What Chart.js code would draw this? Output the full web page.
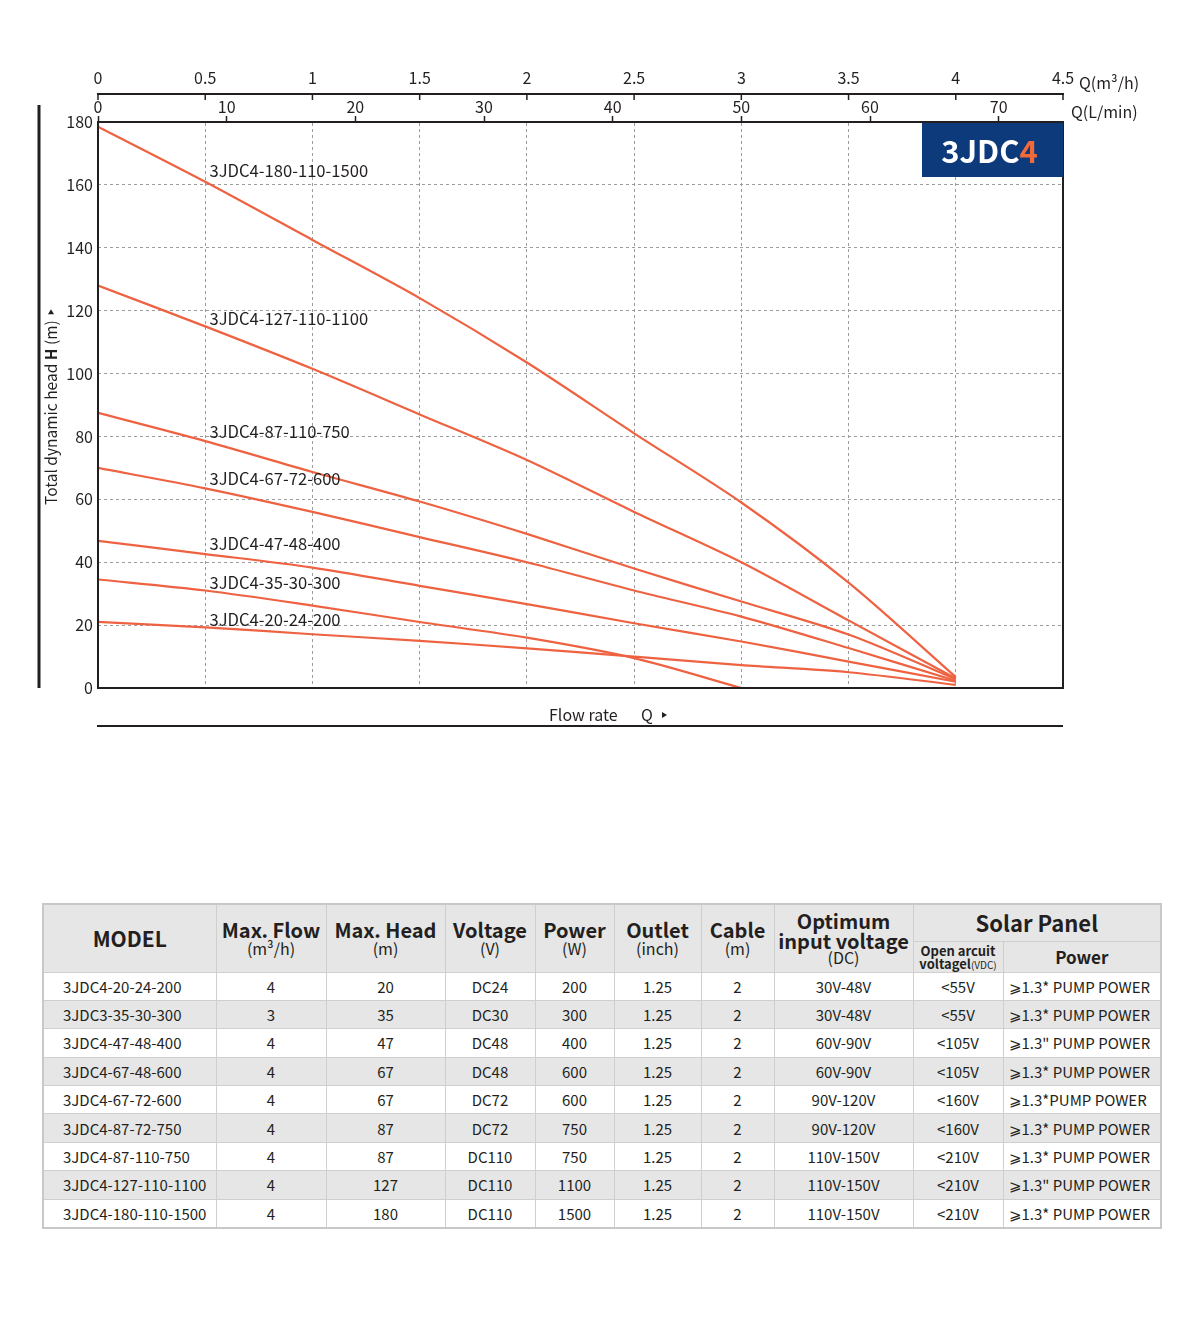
<!DOCTYPE html>
<html>
<head>
<meta charset="utf-8">
<script src="https://cdn.jsdelivr.net/npm/chart.js@4.4.1/dist/chart.umd.min.js"></script>
<style>
  html, body { margin: 0; padding: 0; background: #fff; }
  body { width: 1200px; height: 1328px; position: relative; font-family: "Noto Sans CJK SC", "Noto Sans", sans-serif; color: #231f20; }
  #chartBox { position: absolute; left: 0; top: 0; width: 1200px; height: 760px; }
  #specTable { position: absolute; left: 42px; top: 903px; width: 1118px; border-collapse: collapse; table-layout: fixed; border: 2px solid #c8c8c8; }
  #specTable th, #specTable td { border: 1px solid #cfcfcf; padding: 0; text-align: center; overflow: hidden; white-space: nowrap; }
  #specTable thead th { background: #e6e6e6; font-weight: bold; line-height: 1.05; }
  #specTable .big { font-size: 20px; }
  #specTable .unit { font-size: 16px; font-weight: normal; }
  #specTable tbody td { height: 27.4px; font-size: 15px; }
  #specTable tbody tr:nth-child(even) td { background: #e6e6e6; }
  #specTable td.model { text-align: left; padding-left: 19px; }
  #specTable td.pw { text-align: left; padding-left: 5px; }
</style>
</head>
<body>
<div id="chartBox"><canvas id="pumpChart" width="1200" height="760"></canvas></div>

<table id="specTable">
  <colgroup>
    <col style="width:173px"><col style="width:110px"><col style="width:119px"><col style="width:90px">
    <col style="width:79px"><col style="width:87px"><col style="width:73px"><col style="width:139px">
    <col style="width:90px"><col style="width:158px">
  </colgroup>
  <thead>
    <tr style="height:37px">
      <th rowspan="2" style="font-size:21px">MODEL</th>
      <th rowspan="2"><span class="big">Max. Flow</span><br><span class="unit">(m³/h)</span></th>
      <th rowspan="2"><span class="big">Max. Head</span><br><span class="unit">(m)</span></th>
      <th rowspan="2"><span class="big">Voltage</span><br><span class="unit">(V)</span></th>
      <th rowspan="2"><span class="big">Power</span><br><span class="unit">(W)</span></th>
      <th rowspan="2"><span class="big">Outlet</span><br><span class="unit">(inch)</span></th>
      <th rowspan="2"><span class="big">Cable</span><br><span class="unit">(m)</span></th>
      <th rowspan="2" style="line-height:0.95"><span class="big">Optimum<br>input voltage</span><br><span class="unit">(DC)</span></th>
      <th colspan="2" style="font-size:22px">Solar Panel</th>
    </tr>
    <tr style="height:31px">
      <th style="font-size:13px; line-height:1">Open arcuit<br>voltagel<span style="font-size:10px; font-weight:normal">(VDC)</span></th>
      <th style="font-size:17px">Power</th>
    </tr>
  </thead>
  <tbody id="specBody"></tbody>
</table>

<script>
// Curvas H-Q da série 3JDC4 (vazão em m³/h, altura em m)
const flowQ = [0, 0.5, 1, 1.5, 2, 2.5, 3, 3.5, 4];
const flowQ35 = [0, 0.5, 1, 1.5, 2, 2.5, 3];

const head180 = [178.5, 161, 142.5, 124, 103.5, 81, 59, 33.5, 3.5];
const head127 = [128, 115, 101.5, 87, 72.5, 56, 40, 21.5, 3];
const head87 = [87.5, 78.5, 68.7, 59.3, 49, 38, 27.5, 17, 2.8];
const head67 = [70, 63.5, 56, 48, 40, 31, 22.7, 12.7, 2.3];
const head47 = [46.8, 42.6, 38.3, 32.5, 26.7, 20.6, 14.8, 8.4, 2];
const head35 = [34.5, 31, 26.2, 21, 16, 9.5, 0];
const head20 = [21, 19.3, 17.1, 15, 12.6, 10, 7.3, 5, 1];

const curveNames = ['3JDC4-180-110-1500', '3JDC4-127-110-1100', '3JDC4-87-110-750', '3JDC4-67-72-600',
                    '3JDC4-47-48-400', '3JDC4-35-30-300', '3JDC4-20-24-200'];
// onde fica o texto de cada curva (Q, H)
const labelQ = 0.52;
const labelHeads = [164.4, 117.5, 81.5, 66.6, 45.9, 33.5, 21.7];

// eixos
const m3hTicks = [0, 0.5, 1, 1.5, 2, 2.5, 3, 3.5, 4, 4.5];
const lpmTicks = [0, 10, 20, 30, 40, 50, 60, 70];
const headTicks = [0, 20, 40, 60, 80, 100, 120, 140, 160, 180];

// tabela
const tableRows = [
  ['3JDC4-20-24-200', '4', '20', 'DC24', '200', '1.25', '2', '30V-48V', '<55V', '⩾1.3* PUMP POWER'],
  ['3JDC3-35-30-300', '3', '35', 'DC30', '300', '1.25', '2', '30V-48V', '<55V', '⩾1.3* PUMP POWER'],
  ['3JDC4-47-48-400', '4', '47', 'DC48', '400', '1.25', '2', '60V-90V', '<105V', '⩾1.3" PUMP POWER'],
  ['3JDC4-67-48-600', '4', '67', 'DC48', '600', '1.25', '2', '60V-90V', '<105V', '⩾1.3* PUMP POWER'],
  ['3JDC4-67-72-600', '4', '67', 'DC72', '600', '1.25', '2', '90V-120V', '<160V', '⩾1.3*PUMP POWER'],
  ['3JDC4-87-72-750', '4', '87', 'DC72', '750', '1.25', '2', '90V-120V', '<160V', '⩾1.3* PUMP POWER'],
  ['3JDC4-87-110-750', '4', '87', 'DC110', '750', '1.25', '2', '110V-150V', '<210V', '⩾1.3* PUMP POWER'],
  ['3JDC4-127-110-1100', '4', '127', 'DC110', '1100', '1.25', '2', '110V-150V', '<210V', '⩾1.3" PUMP POWER'],
  ['3JDC4-180-110-1500', '4', '180', 'DC110', '1500', '1.25', '2', '110V-150V', '<210V', '⩾1.3* PUMP POWER']
];

const LINE_COLOR = '#ee6241';
const INK = '#231f20';
const GRID = '#9c9c9c';
const FONT = '"Noto Sans CJK SC", "Noto Sans", sans-serif';

// Montar a tabela
const tbody = document.getElementById('specBody');
tableRows.forEach(row => {
    const tr = document.createElement('tr');
    row.forEach((cell, i) => {
        const td = document.createElement('td');
        td.textContent = cell;
        if (i === 0) td.className = 'model';
        if (i === 9) td.className = 'pw';
        tr.appendChild(td);
    });
    tbody.appendChild(tr);
});

function toPoints(xs, ys) {
    return xs.map((x, i) => ({ x: x, y: ys[i] }));
}

const curveData = [
    toPoints(flowQ, head180),
    toPoints(flowQ, head127),
    toPoints(flowQ, head87),
    toPoints(flowQ, head67),
    toPoints(flowQ, head47),
    toPoints(flowQ35, head35),
    toPoints(flowQ, head20)
];

// Desenhos extras: moldura, rótulos das curvas, selo, títulos dos eixos
const decorPlugin = {
    id: 'decor',
    afterDraw(chart) {
        const ctx = chart.ctx;
        const area = chart.chartArea;
        const sx = chart.scales.x;
        const sy = chart.scales.y;
        ctx.save();

        // moldura do gráfico
        ctx.strokeStyle = INK;
        ctx.lineWidth = 2;
        ctx.strokeRect(area.left, area.top, area.right - area.left, area.bottom - area.top);

        // marcas do eixo m³/h (para dentro)
        ctx.lineWidth = 1.5;
        m3hTicks.forEach(v => {
            const px = sx.getPixelForValue(v);
            ctx.beginPath();
            ctx.moveTo(px, sx.bottom);
            ctx.lineTo(px, sx.bottom + 6);
            ctx.stroke();
        });

        // rótulos das curvas
        ctx.fillStyle = INK;
        ctx.font = '16.6px ' + FONT;
        ctx.textBaseline = 'middle';
        ctx.textAlign = 'left';
        curveNames.forEach((name, i) => {
            ctx.fillText(name, sx.getPixelForValue(labelQ), sy.getPixelForValue(labelHeads[i]));
        });

        // selo 3JDC4
        const bw = 141, bh = 54;
        ctx.fillStyle = '#0c3a7a';
        ctx.fillRect(area.right - bw, area.top + 1, bw, bh);
        ctx.font = 'bold 31px ' + FONT;
        ctx.textAlign = 'left';
        const t1 = '3JDC';
        const w1 = ctx.measureText(t1).width;
        const w2 = ctx.measureText('4').width;
        const tx = area.right - bw / 2 - (w1 + w2) / 2 - 3;
        const ty = area.top + 1 + bh / 2 + 1;
        ctx.fillStyle = '#ffffff';
        ctx.fillText(t1, tx, ty);
        ctx.fillStyle = '#f06a3c';
        ctx.fillText('4', tx + w1, ty);

        // títulos dos eixos de vazão
        ctx.fillStyle = INK;
        ctx.font = '16px ' + FONT;
        ctx.fillText('Q(m³/h)', area.right + 16, sx.bottom - 11);
        ctx.fillText('Q(L/min)', area.right + 8, area.top - 10);

        // linha vertical à esquerda
        ctx.lineWidth = 3;
        ctx.beginPath();
        ctx.moveTo(39, area.top - 17);
        ctx.lineTo(39, area.bottom);
        ctx.stroke();

        // título do eixo Y (girado)
        ctx.save();
        ctx.translate(51, 505);
        ctx.rotate(-Math.PI / 2);
        ctx.textBaseline = 'middle';
        ctx.font = '15.5px ' + FONT;
        let cx = 0;
        ctx.fillText('Total dynamic head ', cx, 0);
        cx += ctx.measureText('Total dynamic head ').width;
        ctx.font = 'bold 15.5px ' + FONT;
        ctx.fillText('H', cx, 0);
        cx += ctx.measureText('H').width;
        ctx.font = '15.5px ' + FONT;
        ctx.fillText(' (m)', cx, 0);
        cx += ctx.measureText(' (m)').width + 6;
        ctx.beginPath();
        ctx.moveTo(cx, -3);
        ctx.lineTo(cx + 5, 0);
        ctx.lineTo(cx, 3);
        ctx.closePath();
        ctx.fill();
        ctx.restore();

        // título do eixo X embaixo
        ctx.font = '16px ' + FONT;
        ctx.textBaseline = 'middle';
        ctx.fillText('Flow rate', 549, area.bottom + 27);
        ctx.fillText('Q', 641, area.bottom + 27);
        ctx.beginPath();
        ctx.moveTo(662, area.bottom + 24);
        ctx.lineTo(667, area.bottom + 27);
        ctx.lineTo(662, area.bottom + 30);
        ctx.closePath();
        ctx.fill();

        ctx.lineWidth = 2;
        ctx.beginPath();
        ctx.moveTo(area.left - 1, area.bottom + 38);
        ctx.lineTo(area.right, area.bottom + 38);
        ctx.stroke();

        ctx.restore();
    }
};

const canvas = document.getElementById('pumpChart');
const ctx = canvas.getContext('2d');

new Chart(ctx, {
    type: 'line',
    data: {
        datasets: curveData.map((pts, i) => ({
            label: curveNames[i],
            data: pts,
            borderColor: LINE_COLOR,
            borderWidth: 2.2,
            pointRadius: 0,
            tension: 0.3,
            fill: false,
            xAxisID: 'x',
            yAxisID: 'y'
        }))
    },
    options: {
        responsive: false,
        animation: false,
        devicePixelRatio: 1,
        layout: { padding: { top: 66, left: 0, right: 137, bottom: 72 } },
        plugins: {
            legend: { display: false },
            tooltip: { enabled: false }
        },
        scales: {
            x: {
                type: 'linear',
                position: 'top',
                weight: 1,
                min: 0,
                max: 4.5,
                afterBuildTicks: s => { s.ticks = m3hTicks.map(v => ({ value: v })); },
                afterFit: s => { s.height = 28; },
                grid: { color: GRID, lineWidth: 1, drawTicks: false, drawOnChartArea: true },
                border: { display: true, color: INK, width: 2, dash: [3, 3] },
                ticks: {
                    color: INK,
                    font: { family: FONT, size: 16 },
                    padding: 6,
                    maxRotation: 0,
                    callback: v => String(v)
                }
            },
            x2: {
                type: 'linear',
                position: 'top',
                weight: 0,
                min: 0,
                max: 75,
                afterBuildTicks: s => { s.ticks = lpmTicks.map(v => ({ value: v })); },
                afterFit: s => { s.height = 28; },
                border: { display: false },
                grid: { drawOnChartArea: false, drawTicks: true, tickLength: 6, tickColor: INK, tickWidth: 1.5 },
                ticks: {
                    color: INK,
                    font: { family: FONT, size: 16 },
                    padding: -1,
                    maxRotation: 0,
                    callback: v => String(v)
                }
            },
            y: {
                type: 'linear',
                min: 0,
                max: 180,
                afterBuildTicks: s => { s.ticks = headTicks.map(v => ({ value: v })); },
                afterFit: s => { s.width = 98; },
                border: { display: false, dash: [3, 3] },
                grid: { color: GRID, lineWidth: 1, drawTicks: false },
                ticks: {
                    color: INK,
                    font: { family: FONT, size: 16 },
                    padding: 5
                }
            }
        }
    },
    plugins: [decorPlugin]
});
</script>
</body>
</html>
